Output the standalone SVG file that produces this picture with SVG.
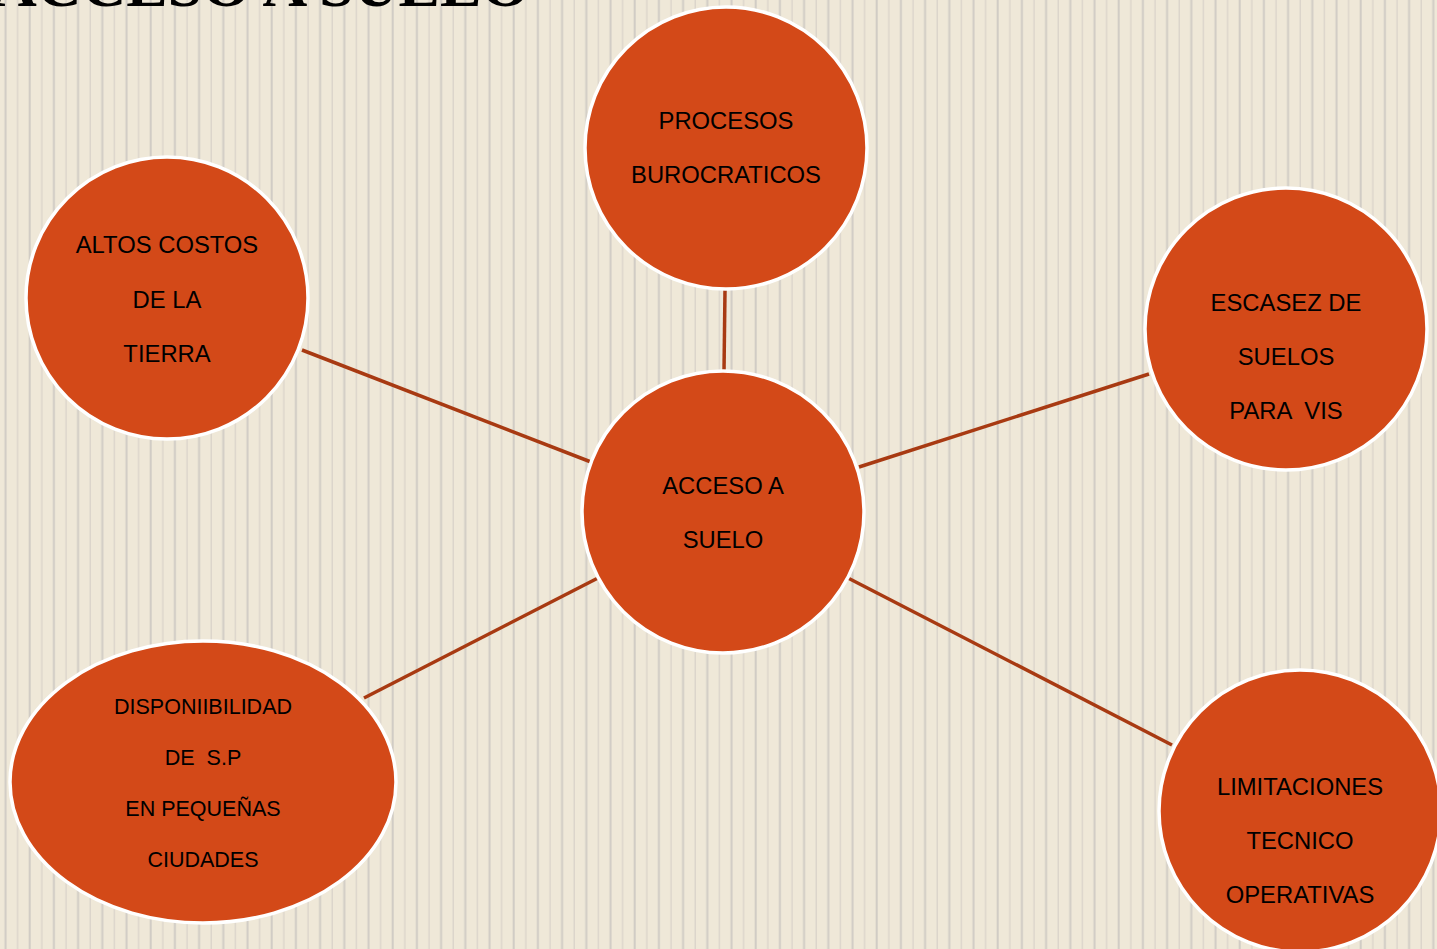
<svg xmlns="http://www.w3.org/2000/svg" width="1437" height="949" viewBox="0 0 1437 949">
<defs>
<pattern id="stripes" x="0" y="0" width="24.2" height="20" patternUnits="userSpaceOnUse">
<rect x="0" y="0" width="24.2" height="20" fill="#efe8d8"/>
<rect x="4.5" y="0" width="2" height="20" fill="#d1ccc5"/>
<rect x="17" y="0" width="1.3" height="20" fill="#dad4ca"/>
</pattern>
<style>
.node{fill:#d34918;stroke:#ffffff;stroke-width:3.5}
.lbl{font-family:"Liberation Sans",Arial,sans-serif;font-size:23.8px;fill:#000;text-anchor:middle}
.sm{font-size:21.5px}
.conn line{stroke:#a83a12;stroke-width:3.5}
.title{font-family:"Liberation Serif","Times New Roman",serif;font-weight:bold;font-size:62px;fill:#000}
</style>
</defs>
<rect width="1437" height="949" fill="url(#stripes)"/>
<text class="title" x="-8" y="6" xml:space="preserve">ACCESO A SUELO</text>
<g id="connectors" class="conn">
<line x1="725" y1="290" x2="724" y2="371"/>
<line x1="302" y1="350" x2="591" y2="462"/>
<line x1="1149" y1="374" x2="859" y2="467"/>
<line x1="364" y1="698" x2="598" y2="578"/>
<line x1="848" y1="578" x2="1172" y2="745"/>
</g>
<g id="procesos">
<circle class="node" cx="726" cy="148" r="141"/>
<text class="lbl" x="726" y="129">PROCESOS</text>
<text class="lbl" x="726" y="183">BUROCRATICOS</text>
</g>
<g id="altos">
<circle class="node" cx="167" cy="298" r="141"/>
<text class="lbl" x="167" y="253">ALTOS COSTOS</text>
<text class="lbl" x="167" y="308">DE LA</text>
<text class="lbl" x="167" y="362">TIERRA</text>
</g>
<g id="escasez">
<circle class="node" cx="1286" cy="329" r="141"/>
<text class="lbl" x="1286" y="311">ESCASEZ DE</text>
<text class="lbl" x="1286" y="365">SUELOS</text>
<text class="lbl" x="1286" y="419" xml:space="preserve">PARA  VIS</text>
</g>
<g id="acceso">
<circle class="node" cx="723" cy="512" r="141"/>
<text class="lbl" x="723" y="494">ACCESO A</text>
<text class="lbl" x="723" y="548">SUELO</text>
</g>
<g id="disponibilidad">
<ellipse class="node" cx="203" cy="782" rx="193" ry="141"/>
<text class="lbl sm" x="203" y="714">DISPONIIBILIDAD</text>
<text class="lbl sm" x="203" y="765" xml:space="preserve">DE  S.P</text>
<text class="lbl sm" x="203" y="816">EN PEQUEÑAS</text>
<text class="lbl sm" x="203" y="867">CIUDADES</text>
</g>
<g id="limitaciones">
<circle class="node" cx="1300" cy="811" r="141"/>
<text class="lbl" x="1300" y="795">LIMITACIONES</text>
<text class="lbl" x="1300" y="849">TECNICO</text>
<text class="lbl" x="1300" y="903">OPERATIVAS</text>
</g>
</svg>
